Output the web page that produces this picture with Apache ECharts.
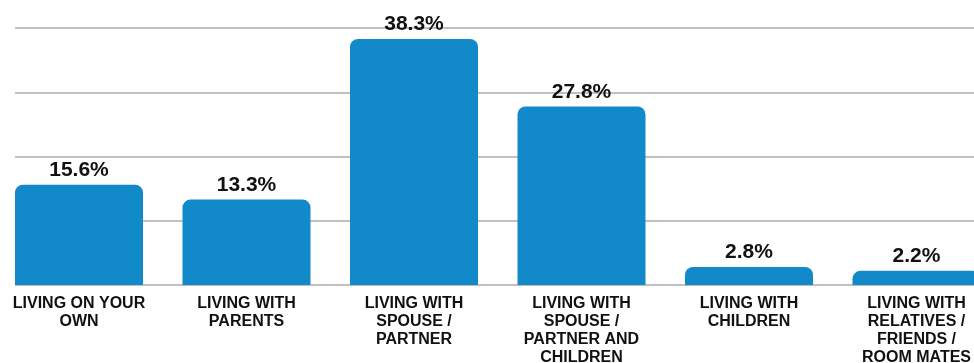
<!DOCTYPE html>
<html>
<head>
<meta charset="utf-8">
<script src="https://cdn.jsdelivr.net/npm/echarts@6/dist/echarts.min.js"></script>
<style>
  html, body { margin: 0; padding: 0; background: #ffffff; }
  #chart { width: 974px; height: 363px; }
</style>
</head>
<body>
<div id="chart"></div>
<script>
// Household arrangement shares (percent)
const categories = [
  'LIVING ON YOUR\nOWN',
  'LIVING WITH\nPARENTS',
  'LIVING WITH\nSPOUSE /\nPARTNER',
  'LIVING WITH\nSPOUSE /\nPARTNER AND\nCHILDREN',
  'LIVING WITH\nCHILDREN',
  'LIVING WITH\nRELATIVES /\nFRIENDS /\nROOM MATES'
];
const values = [15.6, 13.3, 38.3, 27.8, 2.8, 2.2];
const yTicks = [0, 10, 20, 30, 40];

const FONT = '"Liberation Sans", Arial, sans-serif';
const chart = echarts.init(document.getElementById('chart'), null, { renderer: 'canvas' });

chart.setOption({
  animation: false,
  backgroundColor: '#ffffff',
  grid: [
    // horizontal guide lines
    { left: 15, right: 0, top: 28, bottom: 78, containLabel: false, outerBoundsMode: 'none' },
    // bars: category points run from first to last bar centre
    { left: 79, right: 57.5, top: 28, bottom: 78, containLabel: false, outerBoundsMode: 'none' }
  ],
  xAxis: [
    { gridIndex: 0, type: 'category', data: categories, show: false },
    {
      gridIndex: 1,
      type: 'category',
      data: categories,
      boundaryGap: false,
      axisLine: { show: false },
      axisTick: { show: false },
      axisLabel: {
        interval: 0,
        margin: 10,
        hideOverlap: false,
        color: '#111111',
        fontFamily: FONT,
        fontWeight: 'bold',
        fontSize: 16,
        lineHeight: 18,
        align: 'center'
      }
    }
  ],
  yAxis: [
    {
      gridIndex: 0,
      type: 'value',
      min: yTicks[0],
      max: yTicks[yTicks.length - 1],
      interval: 10,
      axisLine: { show: false },
      axisTick: { show: false },
      axisLabel: { show: false },
      splitLine: { show: true, lineStyle: { color: '#c0c0c0', width: 2 } }
    },
    {
      gridIndex: 1,
      type: 'value',
      min: yTicks[0],
      max: yTicks[yTicks.length - 1],
      interval: 10,
      show: false,
      splitLine: { show: false }
    }
  ],
  series: [
    {
      type: 'bar',
      xAxisIndex: 1,
      yAxisIndex: 1,
      data: values,
      barWidth: 128,
      clip: false,
      itemStyle: { color: '#1289c9', borderRadius: [8, 8, 0, 0] },
      label: {
        show: true,
        position: 'top',
        distance: 4,
        formatter: p => p.value.toFixed(1) + '%',
        color: '#111111',
        fontFamily: FONT,
        fontWeight: 'bold',
        fontSize: 21
      },
      z: 3
    }
  ]
});
</script>
</body>
</html>
